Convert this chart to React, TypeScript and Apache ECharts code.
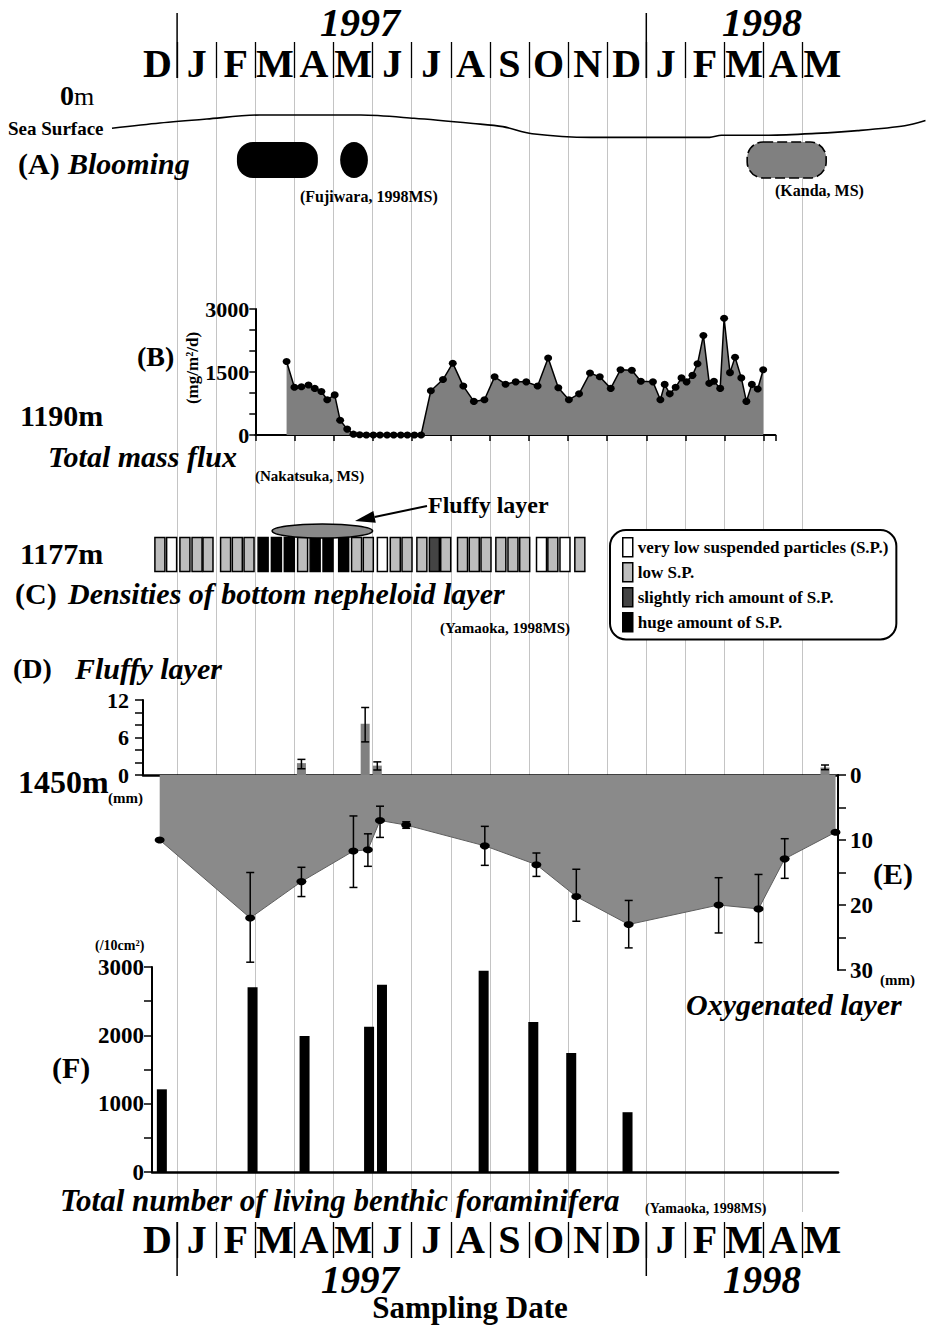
import React, { useEffect, useRef } from "react";
import * as echarts from "echarts";

// ================= DATA =================
// x values are months since 1 Dec 1996 (0 = start of Dec 1996, 1 = start of Jan 1997 ...)
const monthLetters = ["D", "J", "F", "M", "A", "M", "J", "J", "A", "S", "O", "N", "D", "J", "F", "M", "A", "M"];
const yearStartMonth = [1, 13];
const yearLabels = ["1997", "1998"];

// (A) sea surface (schematic relative level) and blooming periods
const seaMonth = [-0.665, 0.56, 1.76, 3.12, 4.34, 5.7, 7.06, 8.57, 9.33, 10.08, 11.59, 13.11, 14.62, 14.92, 16.13, 17.34, 18.4, 19.61, 20.14];
const seaLevel = [11.8, 17, 21, 25, 25, 25, 21.7, 16.5, 13.4, 6.3, 2.6, 2.6, 2.6, 4.8, 4.8, 6.6, 9.4, 14.3, 19.5];
const bloomStart = [2.53, 5.17, 15.58];
const bloomEnd = [4.6, 5.88, 17.6];
const bloomShape = ["round", "ellipse", "round"];
const bloomKind = ["observed", "observed", "estimated"];

// (B) total mass flux at 1190 m (mg/m2/d)
const fluxMonth = [3.8, 4.0, 4.18, 4.36, 4.52, 4.69, 4.84, 5.03, 5.17, 5.35, 5.51, 5.67, 5.84, 6.02, 6.19, 6.37, 6.54, 6.72, 6.89, 7.07, 7.24, 7.49, 7.8, 8.05, 8.32, 8.59, 8.86, 9.12, 9.4, 9.66, 9.93, 10.22, 10.49, 10.75, 11.02, 11.28, 11.56, 11.81, 12.09, 12.34, 12.63, 12.86, 13.17, 13.36, 13.47, 13.6, 13.75, 13.9, 14.03, 14.18, 14.31, 14.46, 14.61, 14.73, 14.89, 14.99, 15.14, 15.27, 15.43, 15.56, 15.7, 15.85, 15.99];
const fluxValue = [1750, 1135, 1150, 1190, 1110, 1035, 840, 955, 350, 140, 20, 8, 0, 0, 0, 0, 0, 0, 0, 0, 0, 1055, 1320, 1710, 1165, 800, 840, 1385, 1210, 1265, 1265, 1165, 1835, 1125, 840, 980, 1475, 1385, 1110, 1555, 1540, 1280, 1265, 840, 1205, 980, 1135, 1360, 1265, 1420, 1695, 2370, 1230, 1280, 1110, 2780, 1485, 1850, 1360, 800, 1205, 1095, 1555];
const fluxTickLabels = [0, 1500, 3000];

// (C) densities of bottom nepheloid layer at 1177 m
const nephClassNames = ["very low suspended particles (S.P.)", "low S.P.", "slightly rich amount of S.P.", "huge amount of S.P."];
const nephMonth = [0.56, 0.86, 1.2, 1.51, 1.79, 2.24, 2.54, 2.84, 3.2, 3.54, 3.87, 4.21, 4.53, 4.86, 5.26, 5.59, 5.89, 6.25, 6.58, 6.88, 7.26, 7.58, 7.87, 8.3, 8.6, 8.9, 9.28, 9.59, 9.89, 10.32, 10.61, 10.92, 11.3];
const nephClass = [1, 0, 1, 1, 1, 1, 1, 1, 3, 3, 3, 1, 3, 3, 3, 1, 1, 0, 1, 1, 1, 2, 1, 1, 1, 1, 1, 1, 1, 0, 1, 0, 1];
const fluffyLayerSpan = [3.43, 6.0];

// (D) fluffy layer thickness (mm) at 1450 m
const fluffyMonth = [4.18, 5.81, 6.12, 17.57];
const fluffyMm = [1.9, 8.2, 1.5, 1.2];
const fluffyLo = [1.0, 5.3, 0.8, 0.85];
const fluffyHi = [2.5, 10.8, 2.1, 1.6];
const fluffyTickLabels = [0, 6, 12];

// (E) oxygenated layer depth (mm)
const oxyMonth = [0.555, 2.87, 4.18, 5.51, 5.88, 6.19, 6.86, 8.87, 10.19, 11.21, 12.55, 14.85, 15.87, 16.54, 17.84];
const oxyDepth = [10.0, 22.0, 16.4, 11.7, 11.5, 7.0, 7.7, 10.9, 13.8, 18.7, 23.0, 20.0, 20.6, 12.9, 8.8];
const oxyLo = [null, 15.0, 14.2, 6.3, 9.05, 4.8, 7.2, 7.9, 12.0, 14.5, 19.3, 15.8, 15.3, 9.8, null];
const oxyHi = [null, 28.8, 18.7, 17.3, 14.05, 9.6, 8.2, 13.9, 15.6, 22.5, 26.6, 24.3, 25.8, 15.9, null];
const oxyTickLabels = [0, 10, 20, 30];

// (F) total number of living benthic foraminifera (/10cm2)
const foramMonth = [0.61, 2.93, 4.26, 5.91, 6.24, 8.84, 10.11, 11.08, 12.52];
const foramCount = [1210, 2705, 1990, 2125, 2740, 2945, 2195, 1740, 875];
const foramTickLabels = [0, 1000, 2000, 3000];

// ================= LAYOUT / STYLE =================
const W = 927;
const H = 1327;
const X0 = 138; // pixel of month 0
const MPX = 39.1; // pixels per month
const mAt = (x: number) => (x - X0) / MPX;
const px = (m: number) => X0 + m * MPX;
const FF = '"Liberation Serif", "Times New Roman", Times, serif';
const font = (size: number, bold = true, italic = false) =>
  `${italic ? "italic " : ""}${bold ? "bold " : ""}${size}px ${FF}`;
const nephColors = ["#ffffff", "#bdbdbd", "#444444", "#000000"];

function buildOption() {
  const grids: any[] = [];
  const xAxis: any[] = [];
  const yAxis: any[] = [];
  const series: any[] = [];
  const panel = (g: any, x: any, y: any) => {
    const i = grids.length;
    grids.push({ containLabel: false, outerBoundsMode: "none", ...g });
    xAxis.push({ gridIndex: i, ...x });
    yAxis.push({ gridIndex: i, ...y });
    return i;
  };
  const hid = (min: number, max: number) => ({ type: "value", show: false, min, max });
  const blackLine = (w: number) => ({ show: true, onZero: false, lineStyle: { color: "#000", width: w } });
  const ticks = (len: number) => ({ show: true, length: len, lineStyle: { color: "#000", width: 1.5 } });
  const lbl = (size: number, allowed: number[], margin: number) => ({
    show: true,
    fontSize: size,
    fontWeight: "bold",
    fontFamily: FF,
    color: "#000",
    margin,
    showMinLabel: true,
    showMaxLabel: true,
    formatter: (v: number) => (allowed.indexOf(v) >= 0 ? String(v) : ""),
  });
  const noSplit = { show: false };
  const fullX = { type: "value", show: false, min: mAt(0), max: mAt(W) };

  const yearLines = (gi: number) => ({
    type: "custom",
    xAxisIndex: gi,
    yAxisIndex: gi,
    clip: false,
    silent: true,
    data: yearStartMonth.map((m) => [m, 0]),
    renderItem: (params: any, api: any) => {
      const x = api.coord([api.value(0), 0])[0];
      const cs = params.coordSys;
      return {
        type: "line",
        shape: { x1: x, y1: cs.y, x2: x, y2: cs.y + cs.height },
        style: { stroke: "#000", lineWidth: 1.5 },
      };
    },
  });

  const monthAxis = (margin: number) => ({
    type: "category",
    data: monthLetters,
    position: "bottom",
    boundaryGap: true,
    axisLine: { show: false },
    axisTick: { show: false },
    axisLabel: {
      show: true,
      inside: true,
      margin,
      interval: 0,
      verticalAlign: "middle",
      fontSize: 40,
      lineHeight: 30,
      fontWeight: "bold",
      fontFamily: FF,
      color: "#000",
    },
    splitLine: { show: true, interval: 0, showMinLine: false, showMaxLine: false, lineStyle: { color: "#000", width: 1.3 } },
  });

  const errorBars = (gi: number, xs: number[], lo: any[], hi: any[]) => ({
    type: "custom",
    xAxisIndex: gi,
    yAxisIndex: gi,
    clip: false,
    silent: true,
    z: 5,
    data: xs.map((m, i) => [m, lo[i], hi[i]]).filter((d) => d[1] != null),
    renderItem: (params: any, api: any) => {
      const p1 = api.coord([api.value(0), api.value(1)]);
      const p2 = api.coord([api.value(0), api.value(2)]);
      const c = 4;
      const st = { stroke: "#000", lineWidth: 1.5 };
      return {
        type: "group",
        children: [
          { type: "line", shape: { x1: p1[0], y1: p1[1], x2: p2[0], y2: p2[1] }, style: st },
          { type: "line", shape: { x1: p1[0] - c, y1: p1[1], x2: p1[0] + c, y2: p1[1] }, style: st },
          { type: "line", shape: { x1: p2[0] - c, y1: p2[1], x2: p2[0] + c, y2: p2[1] }, style: st },
        ],
      };
    },
  });

  // background month gridlines
  const gBg = panel(
    { left: px(1), width: 16 * MPX, top: 78, height: 1212 - 78 },
    {
      type: "value", min: 1, max: 17, interval: 1, show: true,
      axisLine: { show: false }, axisTick: { show: false }, axisLabel: { show: false },
      splitLine: { show: true, lineStyle: { color: "#c4c4c4", width: 1 } },
    },
    hid(0, 1)
  );
  series.push({ type: "line", xAxisIndex: gBg, yAxisIndex: gBg, data: [], silent: true });

  // top header
  const gHt = panel({ left: px(0), width: 18 * MPX, top: 42, height: 36 }, monthAxis(15), hid(0, 1));
  series.push({ type: "line", xAxisIndex: gHt, yAxisIndex: gHt, data: [], silent: true });
  const gYt = panel({ left: px(0), width: 18 * MPX, top: 13, height: 65 }, hid(0, 18), hid(0, 1));
  series.push(yearLines(gYt));

  // (A) sea surface
  const gSea = panel({ left: 0, width: W, top: 110, height: 30 }, fullX, hid(0, 30));
  series.push({
    type: "line", xAxisIndex: gSea, yAxisIndex: gSea, silent: true,
    data: seaMonth.map((m, i) => [m, seaLevel[i]]),
    symbol: "none", smooth: 0.3, lineStyle: { color: "#000", width: 1.6 },
  });
  // (A) blooming
  const gBl = panel({ left: 0, width: W, top: 142, height: 36 }, fullX, hid(0, 1));
  series.push({
    type: "custom", xAxisIndex: gBl, yAxisIndex: gBl, clip: false, silent: true,
    data: bloomStart.map((s, i) => [s, bloomEnd[i]]),
    renderItem: (params: any, api: any) => {
      const i = params.dataIndex;
      const x1 = api.coord([api.value(0), 0])[0];
      const x2 = api.coord([api.value(1), 0])[0];
      const cs = params.coordSys;
      const style =
        bloomKind[i] === "estimated"
          ? { fill: "#808080", stroke: "#000", lineWidth: 1.6, lineDash: [10, 4] }
          : { fill: "#000" };
      if (bloomShape[i] === "ellipse") {
        return { type: "ellipse", shape: { cx: (x1 + x2) / 2, cy: cs.y + cs.height / 2, rx: (x2 - x1) / 2, ry: cs.height / 2 }, style };
      }
      return { type: "rect", shape: { x: x1, y: cs.y, width: x2 - x1, height: cs.height, r: 16 }, style };
    },
  });

  // (B) total mass flux
  const gB = panel(
    { left: px(3), width: 13.3 * MPX, top: 309, height: 126 },
    { type: "value", min: 3, max: 16.3, interval: 1, axisLine: blackLine(2), axisTick: ticks(6), axisLabel: { show: false }, splitLine: noSplit },
    { type: "value", min: 0, max: 3000, interval: 500, axisLine: blackLine(2), axisTick: ticks(6), axisLabel: lbl(22, fluxTickLabels, 6), splitLine: noSplit }
  );
  series.push({
    type: "line", xAxisIndex: gB, yAxisIndex: gB, silent: true,
    data: fluxMonth.map((m, i) => [m, fluxValue[i]]),
    symbol: "circle", symbolSize: [8, 7], showSymbol: true,
    lineStyle: { color: "#000", width: 1.5 },
    itemStyle: { color: "#000" },
    areaStyle: { color: "#7f7f7f", opacity: 1 },
  });

  // (C) nepheloid layer
  const gC = panel({ left: 0, width: W, top: 520, height: 52 }, fullX, hid(0, 1));
  nephClassNames.forEach((name, k) => {
    series.push({
      type: "custom", name, xAxisIndex: gC, yAxisIndex: gC, clip: false, silent: true,
      itemStyle: { color: nephColors[k], borderColor: "#000", borderWidth: 1.5 },
      data: nephMonth.filter((_, i) => nephClass[i] === k).map((m) => [m, 0]),
      renderItem: (params: any, api: any) => {
        const x = api.coord([api.value(0), 0])[0];
        const cs = params.coordSys;
        return {
          type: "rect",
          shape: { x: x - 5, y: cs.y + 17.5, width: 10, height: 34 },
          style: { fill: nephColors[k], stroke: "#000", lineWidth: 1.5 },
        };
      },
    });
  });
  series.push({
    type: "custom", xAxisIndex: gC, yAxisIndex: gC, clip: false, silent: true, z: 4,
    data: [[fluffyLayerSpan[0], fluffyLayerSpan[1]]],
    renderItem: (params: any, api: any) => {
      const x1 = api.coord([api.value(0), 0])[0];
      const x2 = api.coord([api.value(1), 0])[0];
      const cs = params.coordSys;
      return {
        type: "ellipse",
        shape: { cx: (x1 + x2) / 2, cy: cs.y + 11, rx: (x2 - x1) / 2, ry: 7 },
        style: { fill: "#8a8a8a", stroke: "#000", lineWidth: 1.5 },
      };
    },
  });

  // (D) fluffy layer thickness
  const gD = panel(
    { left: 143, width: 838 - 143, top: 700, height: 75 },
    { type: "value", min: mAt(143), max: mAt(838), axisLine: blackLine(2.5), axisTick: { show: false }, axisLabel: { show: false }, splitLine: noSplit },
    { type: "value", min: 0, max: 12, interval: 2, axisLine: blackLine(2), axisTick: ticks(8), axisLabel: lbl(22, fluffyTickLabels, 14), splitLine: noSplit }
  );
  series.push({
    type: "bar", xAxisIndex: gD, yAxisIndex: gD, silent: true, barWidth: 9,
    data: fluffyMonth.map((m, i) => [m, fluffyMm[i]]),
    itemStyle: { color: "#808080" },
  });
  series.push(errorBars(gD, fluffyMonth, fluffyLo, fluffyHi));

  // (E) oxygenated layer
  const gE = panel(
    { left: 143, width: 838 - 143, top: 775, height: 195 },
    { type: "value", show: false, min: mAt(143), max: mAt(838) },
    {
      type: "value", position: "right", inverse: true, min: 0, max: 30, interval: 5,
      axisLine: blackLine(2), axisTick: ticks(8),
      axisLabel: { ...lbl(23, oxyTickLabels, 12), padding: [10, 0, 0, 0] },
      splitLine: noSplit,
    }
  );
  series.push({
    type: "line", xAxisIndex: gE, yAxisIndex: gE, silent: true, z: 2,
    data: oxyMonth.map((m, i) => [m, oxyDepth[i]]),
    symbol: "circle", symbolSize: [10, 7], showSymbol: true,
    lineStyle: { color: "#5e5e5e", width: 1 },
    itemStyle: { color: "#000" },
    areaStyle: { color: "#8a8a8a", opacity: 1, origin: "start" },
  });
  series.push(errorBars(gE, oxyMonth, oxyLo, oxyHi));

  // (F) living benthic foraminifera
  const gF = panel(
    { left: 152, width: 838 - 152, top: 967, height: 205 },
    { type: "value", min: mAt(152), max: mAt(838), axisLine: blackLine(2.5), axisTick: { show: false }, axisLabel: { show: false }, splitLine: noSplit },
    { type: "value", min: 0, max: 3000, interval: 500, axisLine: blackLine(2), axisTick: ticks(8), axisLabel: lbl(23, foramTickLabels, 8), splitLine: noSplit }
  );
  series.push({
    type: "bar", xAxisIndex: gF, yAxisIndex: gF, silent: true, barWidth: 10,
    data: foramMonth.map((m, i) => [m, foramCount[i]]),
    itemStyle: { color: "#000" },
  });

  // bottom header
  const gHb = panel({ left: px(0), width: 18 * MPX, top: 1222, height: 36 }, monthAxis(19), hid(0, 1));
  series.push({ type: "line", xAxisIndex: gHb, yAxisIndex: gHb, data: [], silent: true });
  const gYb = panel({ left: px(0), width: 18 * MPX, top: 1222, height: 54 }, hid(0, 18), hid(0, 1));
  series.push(yearLines(gYb));

  // ---- texts ----
  const T = (text: string, x: number, y: number, size: number, o: any = {}) => ({
    type: "text",
    x,
    y,
    rotation: o.rot || 0,
    z: 100,
    silent: true,
    style: {
      text,
      font: font(size, o.bold !== false, !!o.italic),
      fill: "#000",
      align: o.align || "left",
      verticalAlign: "middle",
      ...(o.lh ? { lineHeight: o.lh } : {}),
    },
  });
  // arrow geometry for "Fluffy layer" pointer
  const tip = [355, 521];
  const tail = [427, 506];
  const dx = tail[0] - tip[0];
  const dy = tail[1] - tip[1];
  const len = Math.sqrt(dx * dx + dy * dy);
  const ux = dx / len;
  const uy = dy / len;
  const bx = tip[0] + ux * 20;
  const by = tip[1] + uy * 20;

  const graphic = [
    T(yearLabels[0], 360, 22, 40, { italic: true, align: "center", lh: 28 }),
    T(yearLabels[1], 762, 22, 40, { italic: true, align: "center", lh: 28 }),
    T("0", 60, 95, 28),
    T("m", 74, 96, 26, { bold: false }),
    T("Sea Surface", 8, 128, 19),
    T("(A)", 18, 163, 30),
    T("Blooming", 68, 163, 30, { italic: true }),
    T("(Fujiwara, 1998MS)", 300, 196, 16),
    T("(Kanda, MS)", 775, 190, 16),
    T("(B)", 137, 356, 28),
    T("(mg/m²/d)", 192, 368, 17, { rot: Math.PI / 2, align: "center" }),
    T("1190m", 20, 415, 30),
    T("Total mass flux", 48, 456, 30, { italic: true, lh: 24 }),
    T("(Nakatsuka, MS)", 255, 476, 15),
    T("Fluffy layer", 428, 505, 24),
    {
      type: "line", z: 100, silent: true,
      shape: { x1: tail[0], y1: tail[1], x2: bx, y2: by },
      style: { stroke: "#000", lineWidth: 2 },
    },
    {
      type: "polygon", z: 100, silent: true,
      shape: { points: [[tip[0], tip[1]], [bx - uy * 6, by + ux * 6], [bx + uy * 6, by - ux * 6]] },
      style: { fill: "#000" },
    },
    T("1177m", 20, 553, 30),
    T("(C)", 15, 593, 30),
    T("Densities of bottom nepheloid layer", 68, 593, 30, { italic: true }),
    T("(Yamaoka, 1998MS)", 440, 628, 15),
    T("(D)", 13, 668, 28),
    T("Fluffy layer", 75, 668, 30, { italic: true }),
    T("1450m", 18, 782, 32),
    T("(mm)", 108, 798, 15),
    T("(E)", 873, 873, 30),
    T("(mm)", 880, 980, 15, { lh: 12 }),
    T("Oxygenated layer", 686, 1004, 30, { italic: true, lh: 24 }),
    T("(/10cm²)", 95, 945, 14),
    T("(F)", 52, 1067, 30),
    T("Total number of living benthic foraminifera", 60, 1200, 31, { italic: true, lh: 26 }),
    T("(Yamaoka, 1998MS)", 645, 1208, 14),
    T(yearLabels[0], 360, 1279, 39, { italic: true, align: "center", lh: 28 }),
    T(yearLabels[1], 762, 1279, 39, { italic: true, align: "center", lh: 28 }),
    T("Sampling Date", 470, 1307, 31, { align: "center", lh: 24 }),
  ];

  return {
    animation: false,
    backgroundColor: "#ffffff",
    grid: grids,
    xAxis,
    yAxis,
    series,
    graphic,
    legend: {
      show: true,
      orient: "vertical",
      left: 610,
      top: 530,
      icon: "rect",
      itemWidth: 10,
      itemHeight: 19,
      itemGap: 4.5,
      padding: [7, 8, 7, 12],
      borderColor: "#000",
      borderWidth: 2,
      borderRadius: 16,
      backgroundColor: "#fff",
      selectedMode: false,
      data: nephClassNames.map((name, k) => ({
        name,
        icon: "rect",
        itemStyle: { color: nephColors[k], borderColor: "#000", borderWidth: 1.5 },
      })),
      textStyle: { fontFamily: FF, fontWeight: "bold", fontSize: 17, color: "#000" },
    },
  };
}

export default function App() {
  const ref = useRef<HTMLDivElement | null>(null);
  useEffect(() => {
    document.body.style.margin = "0";
    if (!ref.current) return;
    const chart = echarts.init(ref.current, undefined, { renderer: "svg", width: W, height: H });
    chart.setOption(buildOption() as any);
    return () => chart.dispose();
  }, []);
  return <div ref={ref} style={{ width: W, height: H, position: "absolute", left: 0, top: 0 }} />;
}
